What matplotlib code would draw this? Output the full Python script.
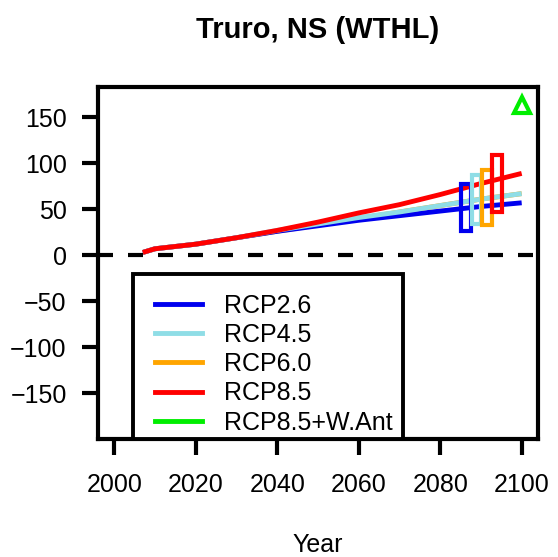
import matplotlib
matplotlib.use("Agg")
import matplotlib.pyplot as plt
from matplotlib.patches import Rectangle

plt.rcParams['font.family'] = ['Liberation Sans', 'DejaVu Sans']

# Projected relative sea-level rise (cm) for Truro, NS
years = [2007, 2010, 2020, 2030, 2040, 2050, 2060, 2070, 2080, 2090, 2100]
rcp26 = [3, 7, 12, 19, 26, 32, 38, 43, 48, 53, 57]
rcp45 = [3, 7, 12, 19, 27, 34, 41, 47, 54, 61, 67]
rcp60 = [3, 7, 12, 19, 26, 33, 40, 47, 54, 61, 67]
rcp85 = [3, 7, 12, 19, 27, 36, 46, 55, 66, 78, 89]

# 2100 uncertainty ranges (low, high) per scenario, drawn as bars near 2100
range_labels = ["RCP2.6", "RCP4.5", "RCP6.0", "RCP8.5"]
range_x = [2086.4, 2088.9, 2091.4, 2094.0]
range_low = [26, 34, 33, 47]
range_high = [77, 87, 93, 109]

# Additional West Antarctic contribution scenario
want_year = 2100
want_value = 163

legend_labels = ["RCP2.6", "RCP4.5", "RCP6.0", "RCP8.5", "RCP8.5+W.Ant"]
colors = {"RCP2.6": "#0000ee", "RCP4.5": "#8fdde6", "RCP6.0": "#ffa500",
          "RCP8.5": "#ff0000", "RCP8.5+W.Ant": "#00ee00"}

xticks = [2000, 2020, 2040, 2060, 2080, 2100]
yticks = [-150, -100, -50, 0, 50, 100, 150]

fig = plt.figure(figsize=(5.58, 5.57), dpi=100)
ax = fig.add_axes([0.1756, 0.2118, 0.7885, 0.632])

ax.axhline(0, color="black", lw=3.0, dashes=(3.6, 3.6), zorder=1)

lw = 3.5
ax.plot(years, rcp60, color=colors["RCP6.0"], lw=lw, solid_capstyle="butt", zorder=2)
ax.plot(years, rcp26, color=colors["RCP2.6"], lw=lw, solid_capstyle="butt", zorder=2)
ax.plot(years, rcp45, color=colors["RCP4.5"], lw=lw, solid_capstyle="butt", zorder=2)
ax.plot(years, rcp85, color=colors["RCP8.5"], lw=lw, solid_capstyle="butt", zorder=2)

half_w = 1.2
for lab, xc, lo, hi in zip(range_labels, range_x, range_low, range_high):
    ax.add_patch(Rectangle((xc - half_w, lo), 2 * half_w, hi - lo, fill=False,
                           edgecolor=colors[lab], lw=3.0, zorder=3))

ax.plot([want_year], [want_value], marker="^", ms=12, mfc="none",
        mec=colors["RCP8.5+W.Ant"], mew=3.0, ls="none", zorder=4)

ax.set_xlim(1996, 2104)
ax.set_ylim(-200, 183)
ax.set_xticks(xticks)
ax.set_yticks(yticks)
ax.set_yticklabels(["\u2212150", "\u2212100", "\u221250", "0", "50", "100", "150"])
ax.tick_params(axis="both", length=11.5, width=3.0, labelsize=18, color="black")
ax.tick_params(axis="y", pad=11)
ax.tick_params(axis="x", pad=13)
for sp in ax.spines.values():
    sp.set_linewidth(3.0)

# legend frame and entries
ax.add_patch(Rectangle((0.0795, 0.0), 0.6136, 0.469, transform=ax.transAxes,
                       facecolor="white", edgecolor="black", lw=2.8, zorder=5,
                       clip_on=False))
handles = []
for lab in legend_labels:
    h, = ax.plot([], [], color=colors[lab], lw=3.5, label=lab)
    handles.append(h)
leg = ax.legend(handles=handles, loc="upper left", bbox_to_anchor=(0.1295, 0.413),
                fontsize=18, frameon=False, borderaxespad=0, borderpad=0,
                handlelength=1.9, handletextpad=0.85, labelspacing=0.21)
leg.set_zorder(6)

fig.text(0.570, 0.946, "Truro, NS (WTHL)", ha="center", va="center",
         fontsize=21, fontweight="bold")
fig.text(0.570, 1 - 545 / 557, "Year", ha="center", va="center", fontsize=18)

fig.savefig("out.png", dpi=100)
